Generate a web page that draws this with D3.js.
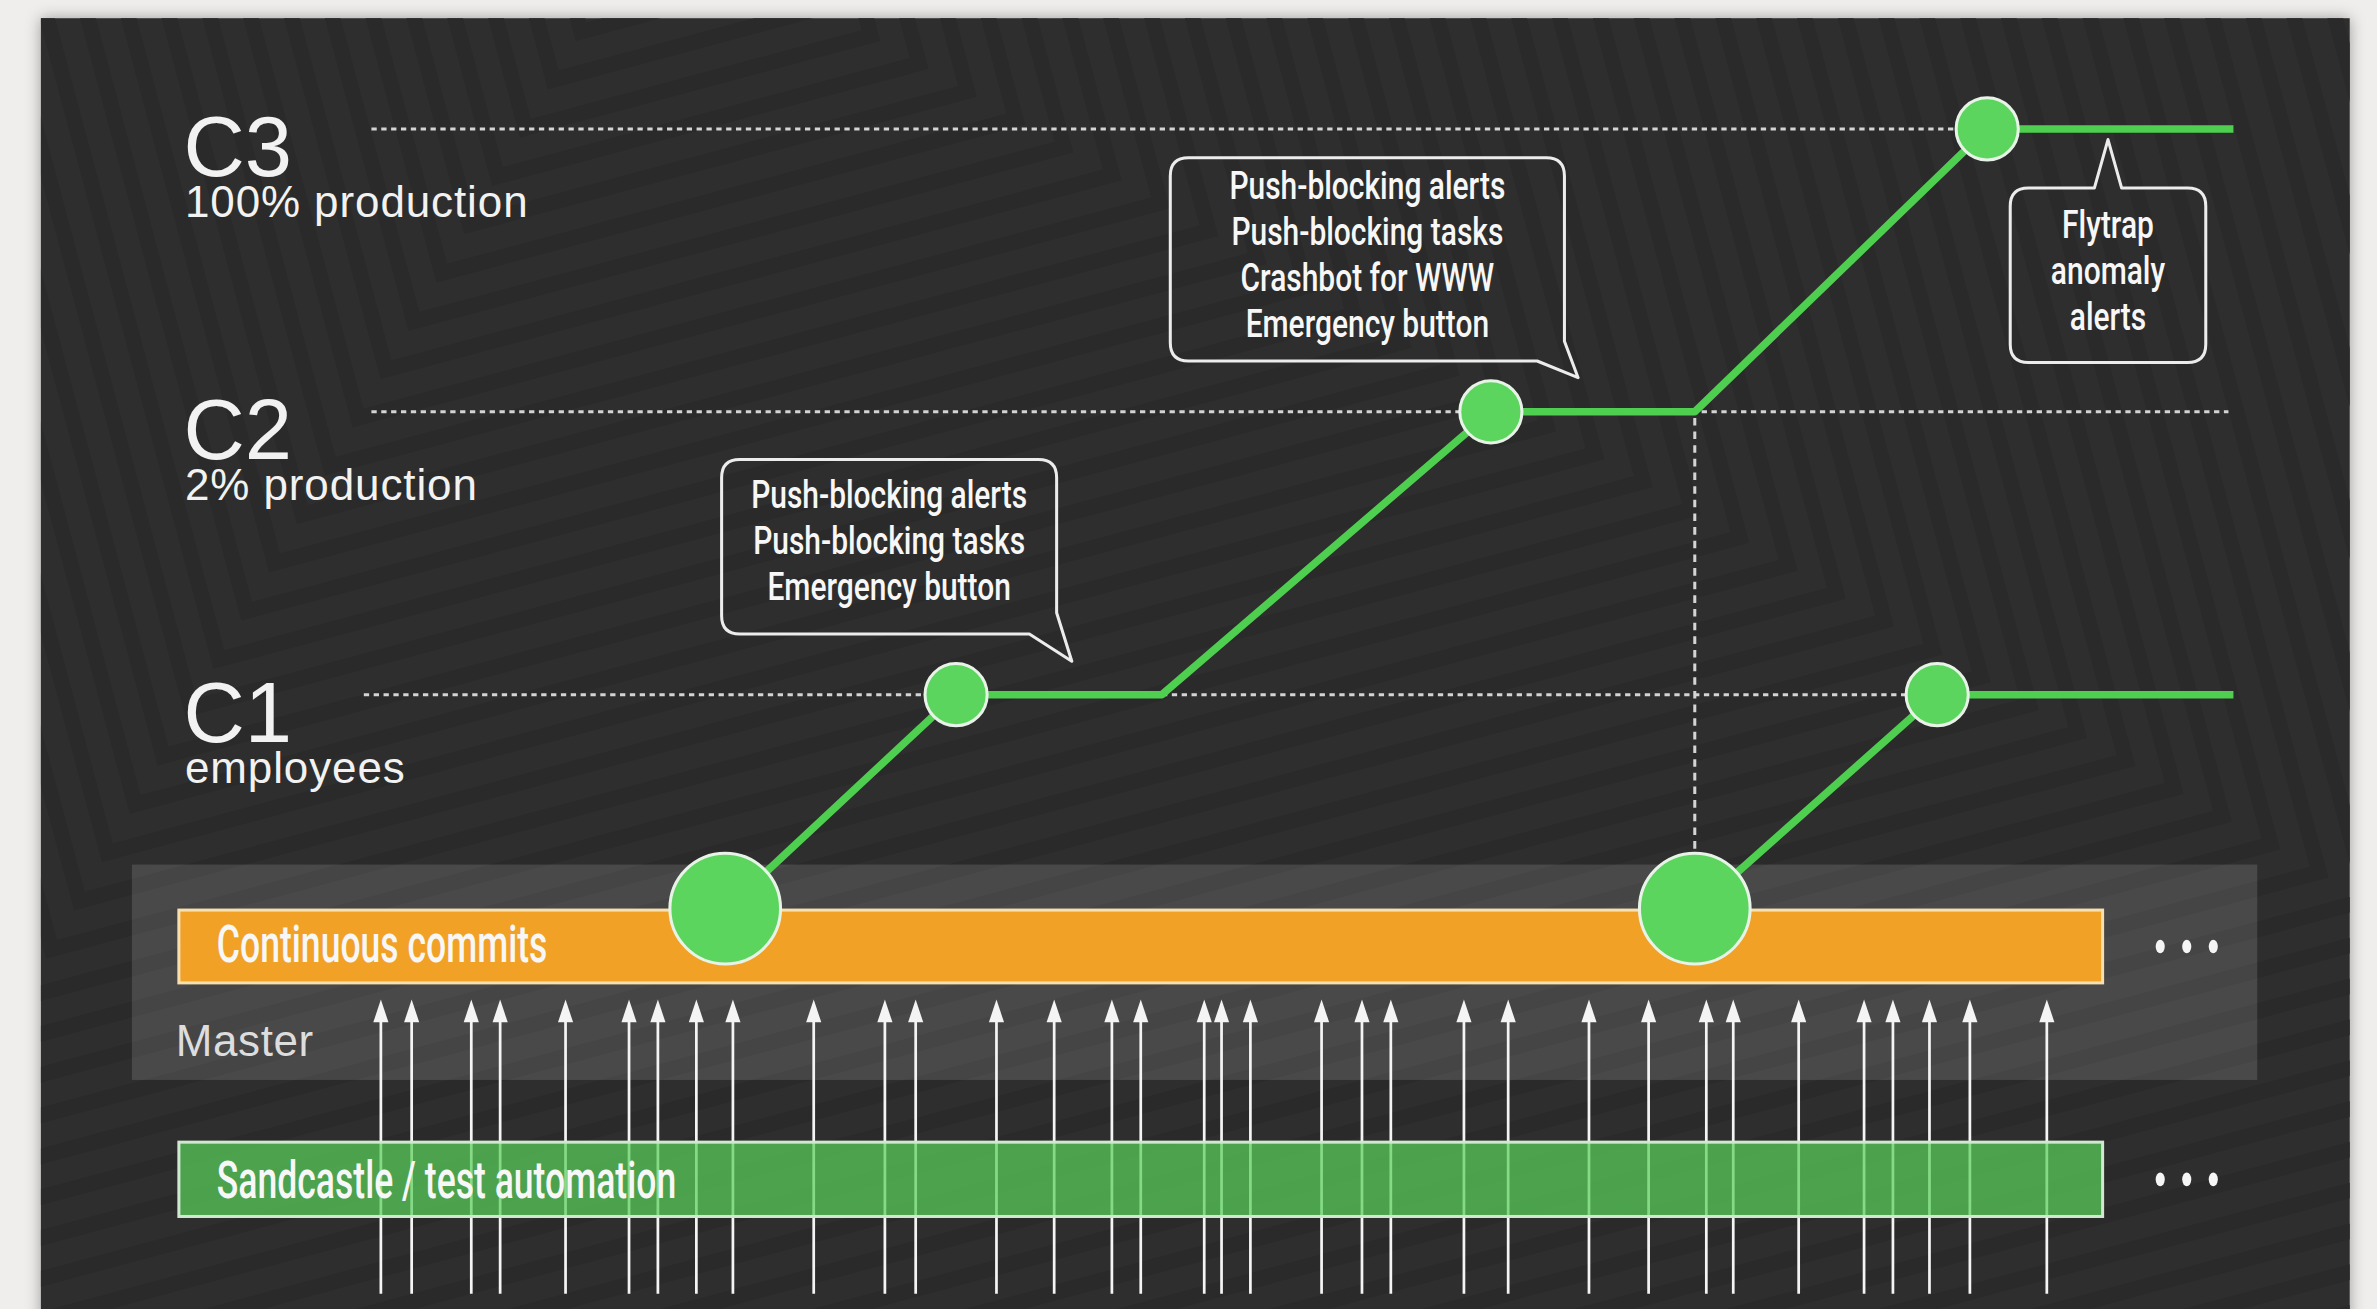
<!DOCTYPE html>
<html lang="en">
<head>
<meta charset="UTF-8">
<title>Push stages</title>
<style>
  html, body { margin: 0; padding: 0; background: #efeeec; overflow: hidden; }
  svg { display: block; }
</style>
</head>
<body>
<div id="chart"></div>
<script src="https://d3js.org/d3.v7.min.js"></script>
<script>
// stages, bottom to top
const levels = ["C1", "C2", "C3"];
const levelSubtitles = ["employees", "2% production", "100% production"];

// commit times on master (0 = left end of the bar, 100 = right end)
const commits = [10.5, 12.1, 15.2, 16.7, 20.1, 23.4, 24.9, 26.9, 28.8, 33.0, 36.7, 38.3,
                 42.5, 45.5, 48.5, 50.0, 53.3, 54.2, 55.7, 59.4, 61.5, 63.0, 66.8, 69.1,
                 73.3, 76.4, 79.4, 80.8, 84.2, 87.6, 89.1, 91.0, 93.1, 97.1];

// pushes as [time, stage]
const push1 = [[28.4, "Master"], [40.4, "C1"], [51.1, "C1"], [68.2, "C2"], [78.8, "C2"], [94.0, "C3"], [106.8, "C3"]];
const push2 = [[78.8, "Master"], [91.4, "C1"], [106.8, "C1"]];
const cutTimes = [28.4, 78.8];
const stageHits = [[40.4, "C1"], [68.2, "C2"], [94.0, "C3"], [91.4, "C1"]];

const callout1 = ["Push-blocking alerts", "Push-blocking tasks", "Emergency button"];
const callout2 = ["Push-blocking alerts", "Push-blocking tasks", "Crashbot for WWW", "Emergency button"];
const callout3 = ["Flytrap", "anomaly", "alerts"];

const barLabels = ["Continuous commits", "Sandcastle / test automation"];
const masterLabel = "Master";

// ---- layout (viewBox units) ----
const W = 1568, H = 863;
const barTop = 600, barH = 48;
const sandTop = 753, sandH = 49;
const lineStart = 243, lineEnd = 1470;

const svg = d3.select("#chart").append("svg")
    .attr("width", 2377)
    .attr("height", 1309)
    .attr("viewBox", `0 0 ${W} ${H}`)
    .attr("preserveAspectRatio", "none");

const x = d3.scaleLinear().domain([0, 100]).range([118, 1387]);
const yStage = d3.scalePoint().domain(levels).range([458, 85]);
const yOf = s => s === "Master" ? barTop : yStage(s);

const defs = svg.append("defs");
const shadow = defs.append("filter").attr("id", "shadow")
    .attr("x", "-5%").attr("y", "-5%").attr("width", "110%").attr("height", "115%");
shadow.append("feDropShadow")
    .attr("dx", 0).attr("dy", 0).attr("stdDeviation", 5)
    .attr("flood-color", "#000").attr("flood-opacity", 0.35);

defs.append("clipPath").attr("id", "panelClip")
  .append("rect").attr("x", 27).attr("y", 12).attr("width", 1523).attr("height", 900);

// dark panel
svg.append("rect")
    .attr("x", 27).attr("y", 12)
    .attr("width", 1523).attr("height", 900)
    .attr("fill", "#2f2f2f")
    .attr("filter", "url(#shadow)");

// chevron texture, kept faint
const tex = svg.append("g").attr("clip-path", "url(#panelClip)")
  .append("g").attr("transform", "translate(430,-60) rotate(-15)");
tex.selectAll("rect")
  .data(d3.range(14, 2400, 26))
  .join("rect")
    .attr("x", d => -d).attr("y", d => -d)
    .attr("width", d => 2 * d).attr("height", d => 2 * d)
    .attr("fill", "none")
    .attr("stroke", "#2a2a2a")
    .attr("stroke-width", 10);

// master band
svg.append("rect")
    .attr("x", 87).attr("y", 570)
    .attr("width", 1402).attr("height", 142)
    .attr("fill", "#ffffff").attr("fill-opacity", 0.13);

// dotted stage lines
svg.append("g").selectAll("line")
  .data(levels)
  .join("line")
    .attr("x1", d => d === "C1" ? lineStart - 3 : lineStart + 2)
    .attr("x2", lineEnd)
    .attr("y1", d => yStage(d)).attr("y2", d => yStage(d))
    .attr("stroke", "#d4d4d4")
    .attr("stroke-width", 2)
    .attr("stroke-dasharray", "3.5,3");

// vertical dotted drop from C2 to second cut
svg.append("line")
    .attr("x1", x(cutTimes[1])).attr("x2", x(cutTimes[1]))
    .attr("y1", yStage("C2") + 4).attr("y2", barTop)
    .attr("stroke", "#d4d4d4")
    .attr("stroke-width", 2)
    .attr("stroke-dasharray", "5,4");

// stage titles: big name with its audience underneath, one text each
const labels = svg.append("g")
    .attr("font-family", "'Liberation Sans', Arial, sans-serif")
    .attr("fill", "#f2f2f2");
const stageText = labels.selectAll("text.stage")
  .data(levels)
  .join("text")
    .attr("class", "stage");
stageText.append("tspan")
    .attr("x", 121)
    .attr("y", d => yStage(d) + 31)
    .attr("font-size", 56)
    .text(d => d);
stageText.append("tspan")
    .attr("x", 122)
    .attr("y", d => yStage(d) + 58)
    .attr("font-size", 29)
    .attr("letter-spacing", 0.6)
    .text((d, i) => levelSubtitles[i]);

labels.append("text")
    .attr("x", 116).attr("y", 696)
    .attr("font-size", 29)
    .attr("letter-spacing", 0.4)
    .attr("fill", "#dddddd")
    .text(masterLabel);

// orange commit bar
svg.append("rect")
    .attr("x", x(0)).attr("y", barTop)
    .attr("width", x(100) - x(0)).attr("height", barH)
    .attr("fill", "#f2a127")
    .attr("stroke", "#f7dfae")
    .attr("stroke-width", 2);

const condensed = (g, text, cx, cy, size, sx, anchor) => g.append("text")
    .attr("transform", `translate(${cx},${cy}) scale(${sx},1)`)
    .attr("text-anchor", anchor)
    .attr("font-family", "Roboto, 'Liberation Sans', sans-serif")
    .attr("font-weight", 500)
    .attr("font-size", size)
    .attr("fill", "#f7f7f7")
    .text(text);

condensed(svg, barLabels[0], 143, 634, 34, 0.69, "start");

// commit arrows
const arrows = svg.append("g").attr("stroke", "#f4f4f4").attr("fill", "#f4f4f4");
arrows.selectAll("line")
  .data(commits)
  .join("line")
    .attr("x1", d => x(d)).attr("x2", d => x(d))
    .attr("y1", 853).attr("y2", 668)
    .attr("stroke-width", 1.8);
arrows.selectAll("path")
  .data(commits)
  .join("path")
    .attr("stroke", "none")
    .attr("d", d => `M${x(d)},659 L${x(d) + 5},674 L${x(d) - 5},674 Z`);

// sandcastle bar
svg.append("rect")
    .attr("x", x(0)).attr("y", sandTop)
    .attr("width", x(100) - x(0)).attr("height", sandH)
    .attr("fill", "#5ad05c").attr("fill-opacity", 0.72)
    .attr("stroke", "#cfe8cf")
    .attr("stroke-width", 2);
condensed(svg, barLabels[1], 143, 790, 34, 0.69, "start");

// ellipsis after bars
[barTop + barH / 2, sandTop + sandH / 2].forEach(cy => {
  svg.append("g").selectAll("ellipse")
    .data([0, 1, 2])
    .join("ellipse")
      .attr("cx", i => 1425 + i * 17.5)
      .attr("cy", cy)
      .attr("rx", 3).attr("ry", 4.5)
      .attr("fill", "#f5f5f5");
});

// push lines
const line = d3.line().x(d => x(d[0])).y(d => yOf(d[1]));
svg.append("g").selectAll("path")
  .data([push1, push2])
  .join("path")
    .attr("d", line)
    .attr("fill", "none")
    .attr("stroke", "#4fcf50")
    .attr("stroke-width", 5)
    .attr("stroke-linejoin", "round");

// cut circles on master
svg.append("g").selectAll("circle")
  .data(cutTimes)
  .join("circle")
    .attr("cx", d => x(d)).attr("cy", barTop - 1)
    .attr("r", 36.5)
    .attr("fill", "#5cd55f")
    .attr("stroke", "#e8f3e8")
    .attr("stroke-width", 2);

// stage circles
svg.append("g").selectAll("circle")
  .data(stageHits)
  .join("circle")
    .attr("cx", d => x(d[0])).attr("cy", d => yStage(d[1]))
    .attr("r", 20.5)
    .attr("fill", "#5cd55f")
    .attr("stroke", "#e8f3e8")
    .attr("stroke-width", 2);

// callouts: centre time, box geometry, tail
const callouts = [
  { lines: callout1, t: 36.92, top: 303, w: 221, h: 115, tail: "br", tip: [10, 18], bx: 18, ry: 14, first: 335 },
  { lines: callout2, t: 61.78, top: 104, w: 260, h: 134, tail: "br", tip: [9, 11], bx: 18, ry: 13, first: 131 },
  { lines: callout3, t: 100.28, top: 124, w: 129, h: 115, tail: "top", tip: [0, -32], half: 9, first: 157 }
];

function calloutPath(c) {
  const cx = x(c.t), x0 = cx - c.w / 2, x1 = cx + c.w / 2, y0 = c.top, y1 = c.top + c.h, r = 12;
  const p = d3.path();
  if (c.tail === "top") {
    p.moveTo(x0 + r, y0);
    p.lineTo(cx - c.half, y0);
    p.lineTo(cx + c.tip[0], y0 + c.tip[1]);
    p.lineTo(cx + c.half, y0);
    p.lineTo(x1 - r, y0);
    p.quadraticCurveTo(x1, y0, x1, y0 + r);
    p.lineTo(x1, y1 - r);
    p.quadraticCurveTo(x1, y1, x1 - r, y1);
  } else {
    p.moveTo(x0 + r, y0);
    p.lineTo(x1 - r, y0);
    p.quadraticCurveTo(x1, y0, x1, y0 + r);
    p.lineTo(x1, y1 - c.ry);
    p.lineTo(x1 + c.tip[0], y1 + c.tip[1]);
    p.lineTo(x1 - c.bx, y1);
  }
  p.lineTo(x0 + r, y1);
  p.quadraticCurveTo(x0, y1, x0, y1 - r);
  p.lineTo(x0, y0 + r);
  p.quadraticCurveTo(x0, y0, x0 + r, y0);
  p.closePath();
  return p.toString();
}

const cg = svg.append("g");
callouts.forEach(c => {
  cg.append("path")
      .attr("d", calloutPath(c))
      .attr("fill", "none")
      .attr("stroke", "#ececec")
      .attr("stroke-width", 2)
      .attr("stroke-linejoin", "round");
  c.lines.forEach((s, i) => condensed(cg, s, x(c.t), c.first + i * 30.4, 26, 0.76, "middle"));
});
</script>
</body>
</html>
